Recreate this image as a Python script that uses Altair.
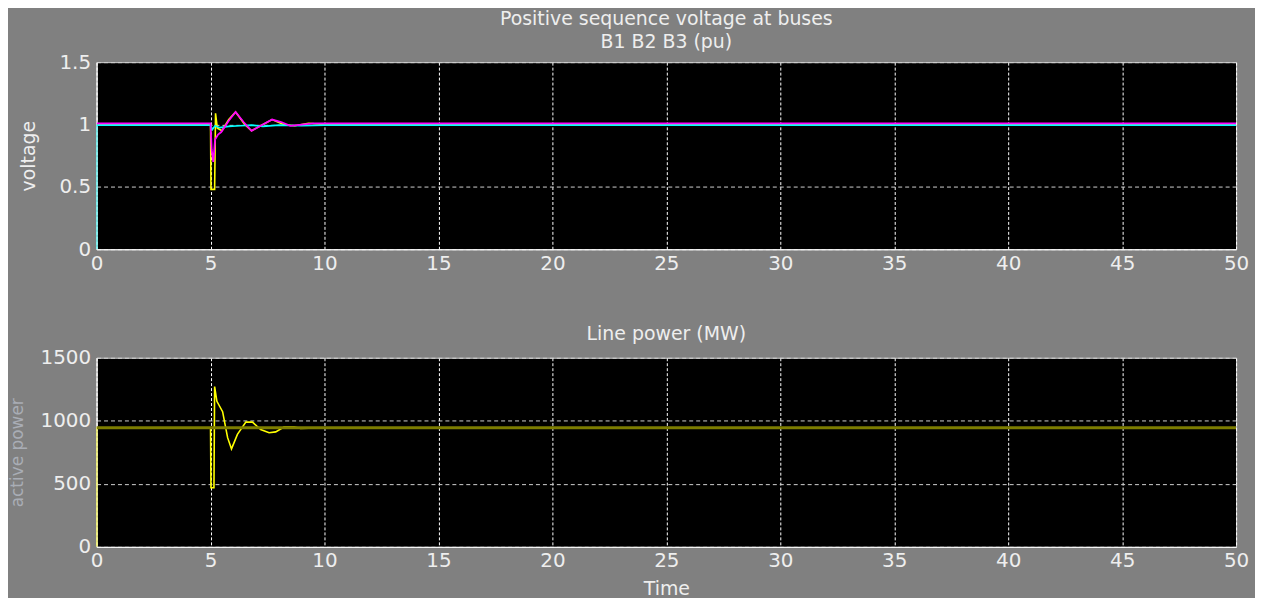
import altair as alt
import pandas as pd

# ---------------- data ----------------
TIME_TICKS = [0, 5, 10, 15, 20, 25, 30, 35, 40, 45, 50]
VOLT_TICKS = [0, 0.5, 1, 1.5]
POWER_TICKS = [0, 500, 1000, 1500]

# Bus B1 (yellow)
b1_t = [0, 5.0, 5.02, 5.18, 5.22, 5.3, 5.5, 5.8, 6.1, 6.5, 6.8, 7.2, 7.7, 8.2, 8.7, 9.3, 10.0, 50]
b1_v = [1.0, 1.0, 0.48, 0.48, 1.09, 0.97, 0.95, 1.04, 1.10, 1.0, 0.95, 0.99, 1.04, 1.0, 0.99, 1.01, 1.0, 1.0]
# Bus B2 (magenta)
b2_t = [0, 5.0, 5.05, 5.12, 5.2, 5.33, 5.47, 5.8, 6.1, 6.45, 6.8, 7.2, 7.7, 8.1, 8.5, 9.0, 9.5, 10.0, 50]
b2_v = [1.01, 1.01, 0.80, 0.70, 0.88, 0.92, 0.94, 1.03, 1.10, 1.02, 0.95, 0.99, 1.04, 1.02, 0.99, 1.0, 1.01, 1.01, 1.01]
# Bus B3 (cyan)
b3_t = [0, 0, 5.0, 5.08, 5.2, 5.4, 5.8, 6.3, 6.8, 7.3, 8.0, 9.0, 10.0, 50]
b3_v = [0, 0.995, 0.995, 0.96, 0.99, 0.975, 0.985, 0.99, 0.995, 0.985, 0.995, 0.99, 0.995, 0.995]

# Line power transient (yellow) and steady trace (olive)
p_t = [0, 0, 5.0, 5.02, 5.15, 5.18, 5.28, 5.53, 5.75, 5.92, 6.18, 6.55, 6.84, 7.2, 7.57, 7.86, 8.22, 8.66, 8.95, 10.0]
p_v = [0, 945, 945, 469, 469, 1271, 1154, 1072, 866, 777, 892, 989, 989, 931, 905, 912, 951, 951, 940, 945]
ps_t = [0, 50]
ps_v = [945, 945]

FONT = "DejaVu Sans"
TXT = "#eeeeee"


def frame(t, v):
    return pd.DataFrame({"t": t, "v": v, "o": list(range(len(t)))})


def xenc(title=None):
    return alt.X(
        "t:Q",
        title=title,
        scale=alt.Scale(domain=[0, 50], nice=False, zero=False),
        axis=alt.Axis(values=TIME_TICKS, title=title, labelFlush=False,
                      labelOverlap=False, gridColor="#ffffff",
                      gridDash=[3, 2], labelPadding=4, titlePadding=9),
    )


def line(df, color, width, yenc, xtitle=None):
    return alt.Chart(df).mark_line(color=color, strokeWidth=width, clip=True).encode(
        x=xenc(xtitle), y=yenc, order="o:Q")


y_top = alt.Y(
    "v:Q",
    scale=alt.Scale(domain=[0, 1.5], nice=False),
    axis=alt.Axis(values=VOLT_TICKS, format="~g", title="voltage",
                  labelFlush=False, labelOverlap=False,
                  gridColor="#d0d0d0", gridDash=[4, 3], labelPadding=6,
                  titleX=-58, titleY=94, titleAngle=270,
                  titleBaseline="bottom", titleAlign="center"),
)

y_bot = alt.Y(
    "v:Q",
    scale=alt.Scale(domain=[0, 1500], nice=False),
    axis=alt.Axis(values=POWER_TICKS, format="d", title="active power",
                  labelFlush=False, labelOverlap=False,
                  gridColor="#d0d0d0", gridDash=[4, 3], labelPadding=6,
                  titleX=-70, titleY=95, titleAngle=270,
                  titleBaseline="bottom", titleAlign="center",
                  titleColor="#a9adb5", titleFontSize=17),
)

top = alt.layer(
    line(frame(b1_t, b1_v), "#ffff00", 1.6, y_top),
    line(frame(b3_t, b3_v), "#00ffff", 1.6, y_top),
    line(frame(b2_t, b2_v), "#ff00ff", 1.8, y_top),
).properties(
    width=1145, height=188,
    title=alt.TitleParams(["Positive sequence voltage at buses", "B1 B2 B3 (pu)"],
                          offset=0, lineHeight=23),
)

bottom = alt.layer(
    line(frame(p_t, p_v), "#ffff00", 1.6, y_bot, "Time"),
    line(frame(ps_t, ps_v), "#7d7d00", 3, y_bot, "Time"),
).properties(
    width=1145, height=190,
    title=alt.TitleParams("Line power (MW)", offset=4),
)

chart = alt.vconcat(top, bottom, spacing=109, bounds="flush").properties(
    padding={"left": 0, "top": 0, "right": 5, "bottom": 0},
    background="#808080",
).configure_view(
    fill="#000000", stroke="#d0d0d0", strokeWidth=1,
).configure_axis(
    labelFont=FONT, labelFontSize=20, labelColor=TXT,
    titleFont=FONT, titleFontSize=19, titleColor=TXT, titleFontWeight="normal",
    domainColor="#ffffff", domainWidth=1, ticks=False, gridWidth=1,
).configure_title(
    font=FONT, fontSize=19, color=TXT, fontWeight="normal", anchor="middle",
)

chart.save("out.html", embed_options={"renderer": "svg", "actions": False})
